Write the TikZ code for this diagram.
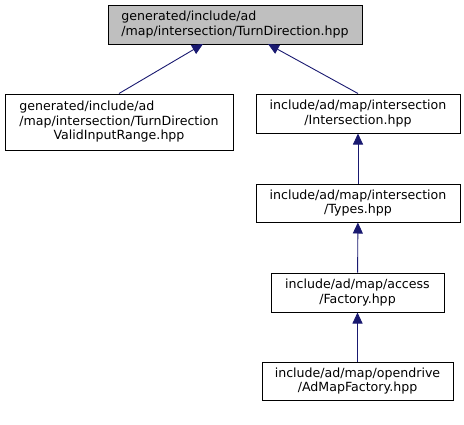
\documentclass[tikz,border=0pt]{standalone}
\usepackage{fontspec}
\setmainfont{DejaVu Sans}
\usetikzlibrary{arrows.meta}
\definecolor{edgeblue}{HTML}{191970}
\begin{document}
\begin{tikzpicture}[x=1pt,y=-1pt,
 filebox/.style={draw,line width=1pt,align=center,inner sep=0pt,font=\fontsize{12.6}{14.5}\selectfont},
 dep/.style={draw=edgeblue,line width=0.9pt,-{Triangle[length=11pt,width=10pt,fill=edgeblue]}}]
 \useasboundingbox (0,0) rectangle (464,424);
 \node[filebox,align=left,fill=gray!50,minimum width=254pt,minimum height=39pt] (turn) at (235,24.5) {generated/include/ad\\/map/intersection/TurnDirection.hpp};
 \node[filebox,minimum width=228pt,minimum height=56pt] (range) at (119,122) {\rlap{generated/include/ad}\phantom{/map/intersection/TurnDirection}\\/map/intersection/TurnDirection\\ValidInputRange.hpp};
 \node[filebox,minimum width=204pt,minimum height=39pt] (inter) at (358,113.5) {include/ad/map/intersection\\/Intersection.hpp};
 \node[filebox,minimum width=204pt,minimum height=38pt] (types) at (358,203) {include/ad/map/intersection\\/Types.hpp};
 \node[filebox,minimum width=173pt,minimum height=39pt] (factory) at (357.5,292.5) {include/ad/map/access\\/Factory.hpp};
 \node[filebox,minimum width=191pt,minimum height=38pt] (admap) at (357.5,381) {include/ad/map/opendrive\\/AdMapFactory.hpp};
 \draw[dep] (range.north) -- (203,44);
 \draw[dep] (inter.north) -- (268,44);
 \draw[dep] (types) -- (inter);
 \draw[dep] (factory) -- (types);
 \draw[dep] (admap) -- (factory);
\end{tikzpicture}
\end{document}
